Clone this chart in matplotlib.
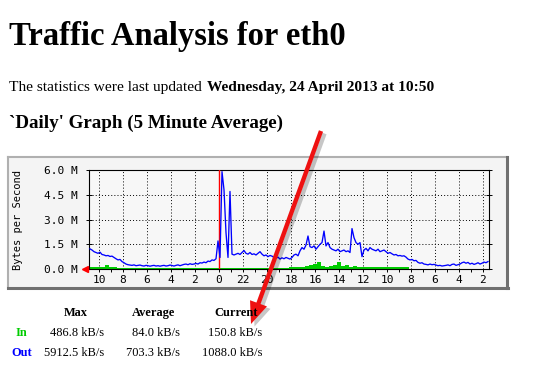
import numpy as np
import matplotlib
matplotlib.use("Agg")
import matplotlib.pyplot as plt
from matplotlib.patches import Rectangle, Polygon

# ---------------- data ----------------
# Outgoing traffic (M bytes/s), one value per 10 minutes, newest (left) first
out_mbps = [
    1.22, 1.15, 1.05,
    1.0, 0.95, 1.02,
    0.88, 0.85, 0.8, 0.82, 0.76, 0.78, 0.7,
    0.62, 0.55, 0.58, 0.45, 0.38,
    0.3, 0.26, 0.24, 0.22, 0.25, 0.2, 0.22, 0.24, 0.2, 0.18, 0.22, 0.2, 0.17, 0.2, 0.22, 0.18, 0.2,
    0.17, 0.2, 0.22, 0.18, 0.2, 0.24, 0.21, 0.18, 0.22, 0.25, 0.2, 0.24, 0.28,
    0.3, 0.26, 0.32, 0.28, 0.3,
    0.34, 0.3, 0.38, 0.36, 0.42, 0.38,
    0.48, 0.45, 0.55, 0.52, 0.62,
    1.7, 0.7, 5.9, 4.8, 2.2, 0.7, 4.7, 0.9,
    0.85, 0.9, 0.95, 0.88, 1.0, 1.12,
    0.95, 0.9, 1.0, 0.88, 0.92, 0.85, 0.95, 1.05, 0.9,
    0.8, 0.85, 0.75, 0.82, 0.78,
    0.7, 0.65, 0.72, 0.6, 0.68, 0.62, 0.7, 0.65, 0.6, 0.7,
    0.85, 0.9, 0.8,
    1.1, 1.3, 1.2, 1.45,
    2.0,
    1.35, 1.3, 1.4, 1.2, 1.35, 1.5,
    1.6, 2.3,
    1.4, 1.6, 1.3,
    1.2, 1.15, 1.1, 1.2, 1.05, 1.1, 1.15, 1.05, 1.1, 1.0,
    2.45, 1.9, 1.6, 1.5, 1.6, 0.75,
    1.15, 1.25, 1.1, 1.3, 1.2,
    1.15, 1.1, 1.2, 1.05, 1.1, 1.15, 1.05,
    0.95, 1.0, 0.92,
    0.85, 0.88, 0.8, 0.82,
    0.78, 0.8, 0.72,
    0.6, 0.55, 0.58, 0.5, 0.52,
    0.4, 0.35, 0.38,
    0.3, 0.28, 0.25, 0.3, 0.26, 0.28, 0.24,
    0.2, 0.22, 0.18, 0.2, 0.22,
    0.25, 0.2, 0.28, 0.3, 0.22, 0.26, 0.3,
    0.38, 0.42, 0.35, 0.4,
    0.3, 0.35, 0.28, 0.32, 0.38, 0.3, 0.35, 0.42, 0.38, 0.45,
]
# Incoming traffic (M bytes/s), one value per 20 minutes, newest first
in_mbps = [
    0.1, 0.12, 0.1, 0.14, 0.22, 0.12, 0.1, 0.08,
    0.05, 0.06, 0.05, 0.04, 0.05, 0.06, 0.05, 0.04, 0.05, 0.05, 0.06, 0.04,
    0.05, 0.05, 0.04, 0.05, 0.06, 0.05, 0.04, 0.05, 0.05, 0.06, 0.05,
    0.06, 0.05, 0.06, 0.07, 0.06, 0.08, 0.07, 0.06, 0.08, 0.07,
    0.06, 0.07, 0.08, 0.06, 0.07, 0.08, 0.07, 0.06, 0.08, 0.1,
    0.12, 0.1, 0.14, 0.18, 0.22, 0.3,
    0.45,
    0.2, 0.15, 0.18, 0.22,
    0.4,
    0.2, 0.22, 0.15, 0.18,
    0.14, 0.12, 0.15, 0.13, 0.12, 0.14, 0.12, 0.13, 0.11, 0.14, 0.12, 0.13, 0.12,
    0.03, 0.02, 0.03, 0.02, 0.03, 0.02, 0.02, 0.03, 0.02, 0.03,
    0.02, 0.02, 0.03, 0.02, 0.03, 0.02, 0.03, 0.02, 0.02, 0.03,
]
hour_labels = ['10', '8', '6', '4', '2', '0', '22', '20', '18', '16', '14', '12',
               '10', '8', '6', '4', '2']
y_ticks = [0.0, 1.5, 3.0, 4.5, 6.0]
y_labels = ['0.0 M', '1.5 M', '3.0 M', '4.5 M', '6.0 M']

table_cols = ['Max', 'Average', 'Current']
in_stats = ['486.8 kB/s', '84.0 kB/s', '150.8 kB/s']
out_stats = ['5912.5 kB/s', '703.3 kB/s', '1088.0 kB/s']

# ---------------- figure ----------------
W, H = 538, 378
fig = plt.figure(figsize=(W / 100, H / 100), dpi=100)
fig.patch.set_facecolor('white')

def pix_axes(x0, y0, x1, y1, **kw):
    return fig.add_axes([x0 / W, 1 - y1 / H, (x1 - x0) / W, (y1 - y0) / H], **kw)

# underlay: graph panel
under = pix_axes(0, 0, W, H)
under.set_xlim(0, W); under.set_ylim(H, 0); under.axis('off')
px0, py0, px1, py1 = 8, 157, 507, 288
under.add_patch(Rectangle((px0, py0), px1 - px0, py1 - py0, facecolor='#f4f4f4', edgecolor='none'))
under.plot([px0, px1], [py0, py0], color='#b0b0b0', lw=1.5)
under.plot([px0, px0], [py0, py1], color='#b0b0b0', lw=1.5)
under.plot([px0, px1 + 1], [py1, py1], color='#707070', lw=2.2)
under.plot([px1, px1], [py0, py1], color='#707070', lw=2.2)

# main plot
ax = pix_axes(89, 170, 489, 269)
ax.set_facecolor('#f7f7f7')
step_out = 10 / 60.0
step_in = 20 / 60.0
x_end = 400 * 5 / 60.0
x_out = np.arange(len(out_mbps)) * step_out + step_out / 2
x_in = np.append(np.arange(len(in_mbps)) * step_in, x_end)
y_in = np.append(in_mbps, in_mbps[-1])
ax.fill_between(x_in, 0, y_in, step='post', color='#00cc00', lw=0, zorder=2)
ax.axvline(10 + 50 / 60.0, color='#ff0000', lw=1.0, zorder=3)
ax.plot(x_out, out_mbps, color='#0000ff', lw=0.95, zorder=4)

ax.set_xlim(0, x_end)
ax.set_ylim(0, 6.0)
major_x = [50 / 60.0 + 2 * n for n in range(len(hour_labels))]
ax.set_xticks(major_x)
ax.set_xticklabels(hour_labels)
ax.set_xticks([50 / 60.0 + n for n in range(33)], minor=True)
ax.set_yticks(y_ticks)
ax.set_yticklabels(y_labels)
mono = 'DejaVu Sans Mono'
for lab in ax.get_xticklabels() + ax.get_yticklabels():
    lab.set_family(mono)
    lab.set_fontsize(8)
ax.tick_params(axis='x', which='both', direction='out', length=2.5, width=0.7, pad=2)
ax.tick_params(axis='y', which='major', direction='inout', length=4, width=0.7, pad=6,
               right=True)
ax.grid(True, which='major', color='black', linestyle=(0, (1, 2.2)), lw=0.7)
for s in ax.spines.values():
    s.set_color('black'); s.set_linewidth(0.8)
ax.plot([-0.3], [0], marker='<', color='red', markersize=5, clip_on=False, zorder=5)
ax.set_ylabel('Bytes per Second', family=mono, fontsize=7.5, labelpad=10)
ax.yaxis.set_label_coords(-66 / 400, 0.5)

# overlay: page text and annotation arrow
ov = pix_axes(0, 0, W, H)
ov.set_xlim(0, W); ov.set_ylim(H, 0); ov.axis('off')
ov.patch.set_alpha(0)
serif = 'Liberation Serif'
ov.text(9, 45, 'Traffic Analysis for eth0', family=serif, weight='bold', fontsize=23.5,
        va='baseline')
t1 = ov.text(9, 91, 'The statistics were last updated ', family=serif, fontsize=11.1,
             va='baseline')
fig.canvas.draw()
bb = t1.get_window_extent()
xend = bb.x1 * W / fig.bbox.width
ov.text(xend + 1, 91, 'Wednesday, 24 April 2013 at 10:50', family=serif, weight='bold',
        fontsize=11.1, va='baseline')
ov.text(9, 128, "`Daily' Graph (5 Minute Average)", family=serif, weight='bold',
        fontsize=13.65, va='baseline')

col_centers = [76, 154, 236]
col_rights = [104, 180, 262]
fs_tab = 8.9
for c, name in zip(col_centers, table_cols):
    ov.text(c, 316, name, family=serif, weight='bold', fontsize=fs_tab, ha='center',
            va='baseline')
ov.text(21, 336, 'In', family=serif, weight='bold', fontsize=fs_tab, ha='center',
        va='baseline', color='#00cc00')
ov.text(22, 356, 'Out', family=serif, weight='bold', fontsize=fs_tab, ha='center',
        va='baseline', color='#0000ff')
for r, v in zip(col_rights, in_stats):
    ov.text(r, 336, v, family=serif, fontsize=fs_tab, ha='right', va='baseline')
for r, v in zip(col_rights, out_stats):
    ov.text(r, 356, v, family=serif, fontsize=fs_tab, ha='right', va='baseline')

# red annotation arrow with shadow
tail = np.array([321.0, 131.0])
tip = np.array([251.0, 324.0])
d = tip - tail
u = d / np.hypot(*d)
n = np.array([-u[1], u[0]])
head_len, head_w, shaft_w = 22, 9, 2.2
base = tip - u * head_len

def arrow_poly(off):
    pts = [tail + n * shaft_w, base + n * shaft_w, base + n * head_w, tip,
           base - n * head_w, base - n * shaft_w, tail - n * shaft_w]
    return np.array(pts) + off

ov.add_patch(Polygon(arrow_poly(np.array([3.5, 2.5])), closed=True, facecolor='#000000',
                     alpha=0.22, edgecolor='none'))
ov.add_patch(Polygon(arrow_poly(np.array([0, 0])), closed=True, facecolor='#ee1111',
                     edgecolor='none'))

fig.savefig('out.png', dpi=100)
